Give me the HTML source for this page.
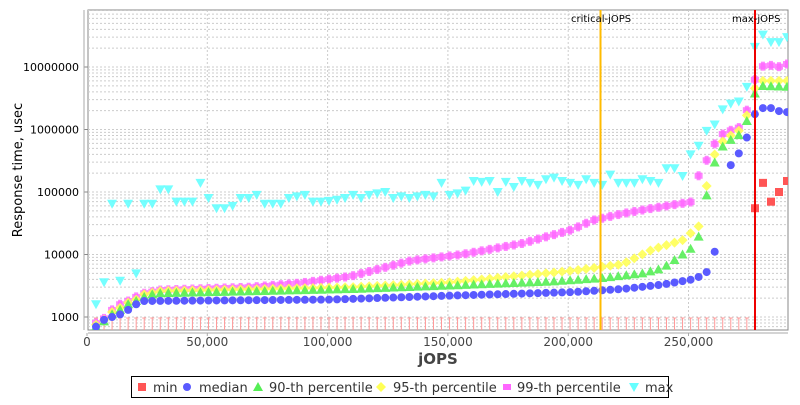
<!DOCTYPE html>
<html><head><meta charset="utf-8"><style>
body{margin:0;background:#fff;font-family:"Liberation Sans","DejaVu Sans",sans-serif;}
svg text{font-family:"DejaVu Sans","Liberation Sans",sans-serif;}
</style></head><body>
<svg id="s" width="800" height="400" xmlns="http://www.w3.org/2000/svg"></svg>
<script>
const s=document.getElementById('s');let h='';
const L=88,R=788,T=10,B=330;
const Y=v=>317-62.5*Math.log10(v/1000);
const SX=x=>96+(x-96)*8.035/8;
h+=`<rect x="${L}" y="${T}" width="${R-L}" height="${B-T}" fill="#fff" stroke="#888"/>`;
for(let d=2;d<=7;d++){for(let m=1;m<=9;m++){const v=Math.pow(10,d)*m;const y=Y(v);if(y<T||y>B)continue;h+=`<line x1="${L}" x2="${R}" y1="${y}" y2="${y}" stroke="#ccc" stroke-dasharray="2,2" stroke-width="1"/>`;}}
const X=j=>87+j*120.3/50000;
for(let j=50000;j<=300000;j+=50000){const x=X(j);if(x<R)h+=`<line x1="${x}" x2="${x}" y1="${T}" y2="${B}" stroke="#ccc" stroke-dasharray="2,2"/>`;}
[[1000,'1000'],[10000,'10000'],[100000,'100000'],[1e6,'1000000'],[1e7,'10000000']].forEach(([v,t])=>{h+=`<text x="79" y="${Y(v)+4}" font-size="11" text-anchor="end">${t}</text><line x1="84" x2="88" y1="${Y(v)}" y2="${Y(v)}" stroke="#888"/>`;});
h+=`<line x1="84" x2="84" y1="${T}" y2="${B}" stroke="#aaa"/><line x1="${L}" x2="${R}" y1="333" y2="333" stroke="#aaa"/>`;
[[0,'0'],[50000,'50,000'],[100000,'100,000'],[150000,'150,000'],[200000,'200,000'],[250000,'250,000']].forEach(([j,t])=>{h+=`<text x="${X(j)}" y="346" font-size="12" fill="#444" text-anchor="middle">${t}</text><line x1="${X(j)}" x2="${X(j)}" y1="333" y2="336" stroke="#aaa"/>`;});
h+=`<text x="438" y="364" font-size="15" font-weight="bold" fill="#444" text-anchor="middle">jOPS</text>`;
h+=`<text transform="translate(22,170) rotate(-90)" font-size="13" text-anchor="middle">Response time, usec</text>`;
for(let i=0;i<=81;i++){const x=SX(96+8*i);h+=`<line x1="${x}" x2="${x}" y1="318" y2="${B}" stroke="#f99" stroke-width="1"/><line x1="${x-2}" x2="${x+2}" y1="318" y2="318" stroke="#f99"/>`;}
function interp(k,x){for(let i=0;i<k.length-1;i++){if(x>=k[i][0]&&x<=k[i+1][0]){const t=(x-k[i][0])/(k[i+1][0]-k[i][0]);return Math.pow(10,Math.log10(k[i][1])*(1-t)+Math.log10(k[i+1][1])*t);}}return null;}
const xs=[];for(let x=96;x<=788;x+=8)xs.push(x);
const med=[[96,700],[104,900],[112,1000],[120,1100],[128,1300],[136,1600],[144,1800],[330,1900],[450,2200],[570,2500],[620,2800],[660,3300],[690,4000],[698,4500],[706,5500],[714,14000],[722,82000],[730,400000],[738,420000],[746,900000],[754,2200000],[770,2200000],[778,1900000],[788,1900000]];
const p90=[[96,700],[104,850],[112,1100],[120,1300],[128,1600],[136,1800],[144,2100],[152,2300],[160,2400],[350,2800],[450,3200],[550,3700],[600,4200],[640,5000],[660,6000],[680,10000],[690,13000],[698,22000],[706,140000],[714,380000],[722,600000],[738,850000],[746,1600000],[754,5000000],[788,4800000]];
const p95=[[96,750],[104,900],[112,1200],[120,1400],[128,1700],[136,1900],[144,2300],[160,2600],[350,3000],[450,3600],[500,4300],[570,5500],[620,7000],[650,12000],[680,17000],[698,30000],[706,200000],[714,500000],[722,700000],[738,1000000],[746,2000000],[754,6000000],[788,6000000]];
const p99=[[96,800],[104,950],[112,1300],[120,1600],[128,1800],[136,2100],[144,2400],[160,2700],[250,3000],[300,3500],[350,4500],[410,8000],[460,10000],[520,15000],[570,25000],[590,35000],[620,45000],[650,55000],[690,70000],[698,250000],[706,350000],[714,700000],[722,900000],[738,1100000],[746,2500000],[754,8500000],[762,11000000],[778,10000000],[788,12000000]];
const mx={96:1600,104:3600,112:65000,120:3800,128:65000,136:5000,144:65000,152:65000,160:110000,168:110000,176:70000,184:70000,192:70000,200:140000,208:80000,216:55000,224:55000,232:60000,240:80000,248:80000,256:90000,264:65000,272:65000,280:65000,288:80000,296:85000,304:90000,312:70000,320:70000,328:72000,336:75000,344:80000,352:90000,360:80000,368:90000,376:95000,384:100000,392:80000,400:85000,408:80000,416:85000,424:90000,432:85000,440:140000,448:90000,456:95000,464:105000,472:150000,480:145000,488:150000,496:100000,504:145000,512:120000,520:150000,528:140000,536:130000,544:160000,552:170000,560:150000,568:140000,576:130000,584:160000,592:140000,600:130000,608:190000,616:140000,624:140000,632:140000,640:160000,648:150000,656:140000,664:240000,672:240000,680:180000,688:400000,696:550000,704:950000,712:1200000,720:2100000,728:2600000,736:2800000,744:4800000,752:21000000,760:33000000,768:25000000,776:25000000,784:30000000};
function circ(x,y,c){return `<circle cx="${x}" cy="${y}" r="4" fill="${c}"/>`;}
let out={min:'',med:'',p90:'',p95:'',p99:'',mx:''};
xs.forEach(x0=>{
  let v;const x=SX(x0);
   v=interp(p99,x0);if(v){const y=Y(v);out.p99+=`<rect x="${x-4}" y="${y-3}" width="8" height="6" fill="#ff66ff" opacity=".8"/><rect x="${x-2}" y="${y-4.5}" width="4" height="9" fill="#ff66ff" opacity=".8"/>`;}
   v=interp(p95,x0);if(v){const y=Y(v);out.p95+=`<polygon points="${x},${y-5} ${x+5},${y} ${x},${y+5} ${x-5},${y}" fill="#ffff55" opacity=".9"/>`;}
   v=interp(p90,x0);if(v){const y=Y(v);out.p90+=`<polygon points="${x},${y-5} ${x+5},${y+4} ${x-5},${y+4}" fill="#55ee55" opacity=".9"/>`;}
   if(x0<=714||x0>=722){v=interp(med,x0);if(v)out.med+=circ(x,Y(v),'#5a5aff');}
});
Object.entries(mx).forEach(([x,v])=>{x=SX(+x);const y=Y(v);out.mx+=`<polygon points="${x-5},${y-4} ${x+5},${y-4} ${x},${y+5}" fill="#66ffff" opacity=".9"/>`;});
[[755,55000],[763,140000],[771,70000],[779,100000],[787,150000]].forEach(([x,v])=>{out.min+=`<rect x="${x-4}" y="${Y(v)-4}" width="8" height="8" fill="#ff5555"/>`;});
h+=`<g clip-path="url(#c)"><clipPath id="c"><rect x="${L}" y="${T}" width="${R-L}" height="${B-T}"/></clipPath>`+out.mx+out.p99+out.p95+out.p90+out.med+out.min+`</g>`;
h+=`<line x1="600.5" x2="600.5" y1="${T}" y2="${B}" stroke="#ffbb00" stroke-width="2"/>`;
h+=`<line x1="755" x2="755" y1="${T}" y2="${B}" stroke="#ee0000" stroke-width="2"/>`;
h+=`<text x="571" y="22" font-size="10">critical-jOPS</text><text x="732" y="22" font-size="10">max-jOPS</text>`;
h+=`<rect x="131.5" y="376.5" width="537" height="21" fill="#fff" stroke="#000"/>`;
const ly=387;
h+=`<rect x="138" y="${ly-4}" width="8" height="8" fill="#ff5555"/><text x="153" y="${ly+5}" font-size="13" fill="#333">min</text>`;
h+=`<circle cx="187" cy="${ly}" r="4" fill="#5a5aff"/><text x="199" y="${ly+5}" font-size="13" fill="#333">median</text>`;
h+=`<polygon points="258,${ly-5} 263,${ly+4} 253,${ly+4}" fill="#55ee55"/><text x="269" y="${ly+5}" font-size="13" fill="#333">90-th percentile</text>`;
h+=`<polygon points="381,${ly-5} 386,${ly} 381,${ly+5} 376,${ly}" fill="#ffff55"/><text x="393" y="${ly+5}" font-size="13" fill="#333">95-th percentile</text>`;
h+=`<rect x="503" y="${ly-3}" width="8" height="6" fill="#ff66ff"/><text x="517" y="${ly+5}" font-size="13" fill="#333">99-th percentile</text>`;
h+=`<polygon points="629,${ly-4} 639,${ly-4} 634,${ly+5}" fill="#66ffff"/><text x="645" y="${ly+5}" font-size="13" fill="#333">max</text>`;
s.innerHTML=h;
</script>
</body></html>
